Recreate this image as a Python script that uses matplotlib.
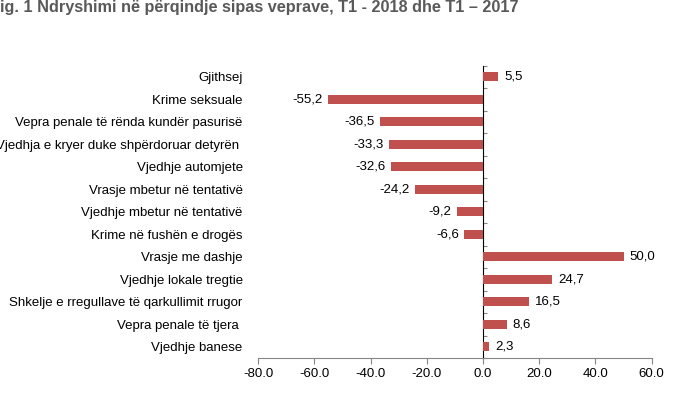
import matplotlib
matplotlib.use("Agg")
import matplotlib.pyplot as plt
import numpy as np

plt.rcParams['font.family'] = ['Liberation Sans', 'DejaVu Sans']

title = "Fig. 1 Ndryshimi në përqindje sipas veprave, T1 - 2018 dhe T1 – 2017"
categories = [
    "Gjithsej",
    "Krime seksuale",
    "Vepra penale të rënda kundër pasurisë",
    "Vjedhja e kryer duke shpërdoruar detyrën ",
    "Vjedhje automjete",
    "Vrasje mbetur në tentativë",
    "Vjedhje mbetur në tentativë",
    "Krime në fushën e drogës",
    "Vrasje me dashje",
    "Vjedhje lokale tregtie",
    "Shkelje e rregullave të qarkullimit rrugor",
    "Vepra penale të tjera ",
    "Vjedhje banese",
]
values = [5.5, -55.2, -36.5, -33.3, -32.6, -24.2, -9.2, -6.6, 50.0, 24.7, 16.5, 8.6, 2.3]
xticks = [-80, -60, -40, -20, 0, 20, 40, 60]

bar_color = "#C0504D"
axis_color = "#868686"
fs = 9.5

fig = plt.figure(figsize=(7, 4.15), dpi=100)
ax = fig.add_axes([0.3686, 0.1373, 0.5624, 0.7043])

y = np.arange(len(categories))
ax.barh(y, values, height=0.4, color=bar_color, zorder=2)
ax.set_xlim(xticks[0], xticks[-1])
ax.set_ylim(len(categories) - 0.5, -0.5)

ax.set_xticks(xticks)
ax.set_xticklabels([f"{t:.1f}" for t in xticks], fontsize=fs)
ax.tick_params(axis='x', direction='out', length=4, width=0.8, color=axis_color, pad=3)

ax.set_yticks(y)
ax.set_yticklabels(categories, fontsize=fs)
ax.tick_params(axis='y', length=0, pad=11)

for s in ['top', 'right', 'left']:
    ax.spines[s].set_visible(False)
ax.spines['bottom'].set_color(axis_color)
ax.spines['bottom'].set_linewidth(0.8)

# zero axis with category boundary ticks
sec = ax.secondary_yaxis((0 - xticks[0]) / (xticks[-1] - xticks[0]))
sec.set_yticks(np.arange(len(categories) + 1) - 0.5)
sec.set_yticklabels([])
sec.tick_params(axis='y', direction='out', length=3, width=0.8, color=axis_color)
sec.spines['left'].set_color(axis_color)
sec.spines['left'].set_linewidth(0.8)

for yi, v in zip(y, values):
    label = f"{v:.1f}".replace('.', ',')
    if v >= 0:
        ax.annotate(label, (v, yi), xytext=(4, 0), textcoords='offset points',
                    ha='left', va='center', fontsize=fs)
    else:
        ax.annotate(label, (v, yi), xytext=(-4, 0), textcoords='offset points',
                    ha='right', va='center', fontsize=fs)

fig.text(-0.014, 0.970, title, fontsize=11.7, fontweight='bold', color='#595959',
         ha='left', va='baseline')

fig.savefig("out.png", dpi=100)
